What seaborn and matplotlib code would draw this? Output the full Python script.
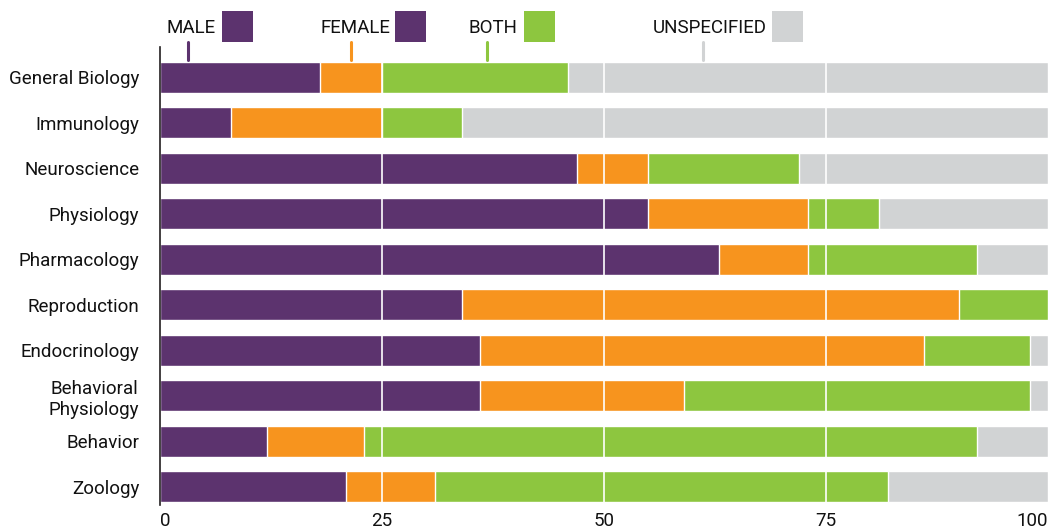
import matplotlib
matplotlib.use("Agg")
import matplotlib.pyplot as plt
from matplotlib import font_manager
import numpy as np
import pandas as pd
import seaborn as sns

# Share of studies by sex of subjects, per field (percent)
fields = ["General Biology", "Immunology", "Neuroscience", "Physiology",
          "Pharmacology", "Reproduction", "Endocrinology",
          "Behavioral\nPhysiology", "Behavior", "Zoology"]
male = [18, 8, 47, 55, 63, 34, 36, 36, 12, 21]
female = [7, 17, 8, 18, 10, 56, 50, 23, 11, 10]
both = [21, 9, 17, 8, 19, 10, 12, 39, 69, 51]
unspecified = [54, 66, 28, 19, 8, 0, 2, 2, 8, 18]

series_names = ["MALE", "FEMALE", "BOTH", "UNSPECIFIED"]
series_colors = ["#5c336e", "#f7941e", "#8dc63f", "#d1d3d4"]
legend_box_colors = ["#5c336e", "#5c336e", "#8dc63f", "#d1d3d4"]
x_ticks = [0, 25, 50, 75, 100]

sns.set_theme(style="white")
available = {f.name for f in font_manager.fontManager.ttflist}
family = [f for f in ["Liberation Sans Narrow", "Roboto", "DejaVu Sans"] if f in available]
plt.rcParams["font.family"] = family
FS = 13.5

df = pd.DataFrame({"field": fields, "MALE": male, "FEMALE": female,
                   "BOTH": both, "UNSPECIFIED": unspecified})
cum = df[series_names].cumsum(axis=1)

W, H = 1058, 531
fig = plt.figure(figsize=(W / 100, H / 100), dpi=100)
ax = fig.add_axes([160 / W, 1 - 505 / H, 888 / W, (505 - 47) / H])

# Stacked bars: draw the running totals from the widest down
for name, color in reversed(list(zip(series_names, series_colors))):
    sns.barplot(data=cum.assign(field=fields), x=name, y="field", orient="h",
                color=color, width=0.68, saturation=1, ax=ax, zorder=2)

ax.set_xlim(0, 100)
ax.set_ylim(len(fields) - 1 + 0.4, -0.66)
ax.set_xlabel("")
ax.set_ylabel("")

# White vertical guide lines across the bars
for t in x_ticks[1:-1]:
    ax.axvline(t, color="white", lw=1.2, zorder=5)

for s in ["top", "right", "bottom"]:
    ax.spines[s].set_visible(False)
ax.spines["left"].set_color("#231f20")
ax.spines["left"].set_linewidth(1.2)

ax.set_xticks(x_ticks)
ax.set_xticklabels([str(t) for t in x_ticks], fontsize=FS, color="#111111")
xl = ax.get_xticklabels()
xl[0].set_ha("left")
xl[-1].set_ha("right")
ax.tick_params(axis="x", length=0, pad=5)
ax.tick_params(axis="y", length=0, pad=15)
for lab in ax.get_yticklabels():
    lab.set_fontsize(FS)
    lab.set_color("#111111")
    lab.set_multialignment("center")

# Legend across the top: label, colour box and a short leader line
legend_text_x = [166, 321, 469, 653]
legend_box_x = [222, 395, 524, 772]
leader_x = [188, 351, 487, 703]
for name, tx, bx, lx, bcol, lcol in zip(series_names, legend_text_x, legend_box_x,
                                         leader_x, legend_box_colors, series_colors):
    fig.text(tx / W, 1 - 28 / H, name, fontsize=FS, color="#111111",
             ha="left", va="center")
    fig.patches.append(plt.Rectangle((bx / W, 1 - 42 / H), 31 / W, 31 / H,
                                     transform=fig.transFigure,
                                     color=bcol, lw=0))
    fig.add_artist(plt.Line2D([lx / W, lx / W], [1 - 42 / H, 1 - 60 / H],
                              transform=fig.transFigure, color=lcol, lw=2.2))

fig.savefig("out.png", dpi=100)
